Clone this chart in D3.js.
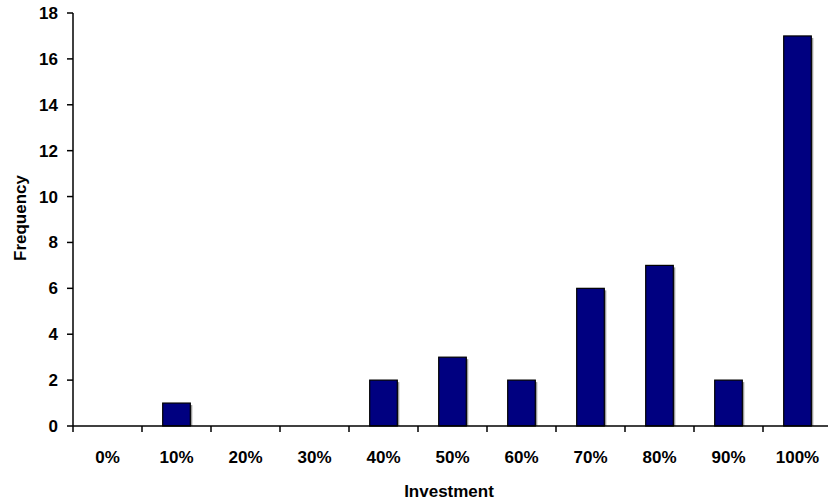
<!DOCTYPE html>
<html>
<head>
<meta charset="utf-8">
<script src="https://cdn.jsdelivr.net/npm/d3@7"></script>
<style>
  body { margin: 0; background: #fff; }
  text { font-family: "Liberation Sans", Arial, sans-serif; font-weight: bold; fill: #000; }
</style>
</head>
<body>
<svg id="chart"></svg>
<script>
const categories = ['0%', '10%', '20%', '30%', '40%', '50%', '60%', '70%', '80%', '90%', '100%'];
const frequency = [0, 1, 0, 0, 2, 3, 2, 6, 7, 2, 17];
const yTicks = [0, 2, 4, 6, 8, 10, 12, 14, 16, 18];

const width = 828, height = 501;
const plotLeft = 73, plotRight = 832, plotTop = 13, plotBottom = 426;
const fontSize = 17;

const svg = d3.select('#chart')
  .attr('width', width)
  .attr('height', height);

const x = d3.scaleBand()
  .domain(categories)
  .range([plotLeft, plotRight])
  .paddingInner(0.6)
  .paddingOuter(0.3);

// band edges without padding, for the tick marks between categories
const step = (plotRight - plotLeft) / categories.length;

const y = d3.scaleLinear()
  .domain([0, 18])
  .range([plotBottom, plotTop]);

// bars with a light shadow on the right
const bars = svg.append('g');
bars.selectAll('rect.shadow')
  .data(frequency)
  .enter()
  .append('rect')
  .attr('class', 'shadow')
  .attr('x', (d, i) => x(categories[i]) + 2)
  .attr('y', d => y(d) + 2)
  .attr('width', x.bandwidth())
  .attr('height', d => Math.max(0, plotBottom - y(d) - 2))
  .attr('fill', '#9a9a9a')
  .style('display', d => d > 0 ? null : 'none');

bars.selectAll('rect.bar')
  .data(frequency)
  .enter()
  .append('rect')
  .attr('class', 'bar')
  .attr('x', (d, i) => x(categories[i]))
  .attr('y', d => y(d))
  .attr('width', x.bandwidth())
  .attr('height', d => plotBottom - y(d))
  .attr('fill', '#000080')
  .attr('stroke', '#000')
  .attr('stroke-width', 1.2)
  .style('display', d => d > 0 ? null : 'none');

// y axis
const yAxis = svg.append('g');
yAxis.append('line')
  .attr('x1', plotLeft).attr('x2', plotLeft)
  .attr('y1', plotTop).attr('y2', plotBottom)
  .attr('stroke', '#000').attr('stroke-width', 1.5);
yAxis.selectAll('line.tick')
  .data(yTicks)
  .enter()
  .append('line')
  .attr('class', 'tick')
  .attr('x1', plotLeft - 6).attr('x2', plotLeft)
  .attr('y1', d => y(d)).attr('y2', d => y(d))
  .attr('stroke', '#000').attr('stroke-width', 1.5);
yAxis.selectAll('text')
  .data(yTicks)
  .enter()
  .append('text')
  .attr('x', plotLeft - 15)
  .attr('y', d => y(d))
  .attr('dy', '0.35em')
  .attr('text-anchor', 'end')
  .style('font-size', fontSize + 'px')
  .text(d => d);

// x axis
const xAxis = svg.append('g');
xAxis.append('line')
  .attr('x1', plotLeft).attr('x2', plotRight)
  .attr('y1', plotBottom).attr('y2', plotBottom)
  .attr('stroke', '#000').attr('stroke-width', 1.5);
xAxis.selectAll('line.tick')
  .data(d3.range(categories.length + 1))
  .enter()
  .append('line')
  .attr('class', 'tick')
  .attr('x1', i => plotLeft + i * step).attr('x2', i => plotLeft + i * step)
  .attr('y1', plotBottom).attr('y2', plotBottom + 6)
  .attr('stroke', '#000').attr('stroke-width', 1.5);
xAxis.selectAll('text')
  .data(categories)
  .enter()
  .append('text')
  .attr('x', d => x(d) + x.bandwidth() / 2)
  .attr('y', 463)
  .attr('text-anchor', 'middle')
  .style('font-size', fontSize + 'px')
  .text(d => d);

// axis titles
svg.append('text')
  .attr('x', 449)
  .attr('y', 497)
  .attr('text-anchor', 'middle')
  .style('font-size', fontSize + 'px')
  .text('Investment');

svg.append('text')
  .attr('transform', 'translate(26,218) rotate(-90)')
  .attr('text-anchor', 'middle')
  .style('font-size', fontSize + 'px')
  .text('Frequency');
</script>
</body>
</html>
